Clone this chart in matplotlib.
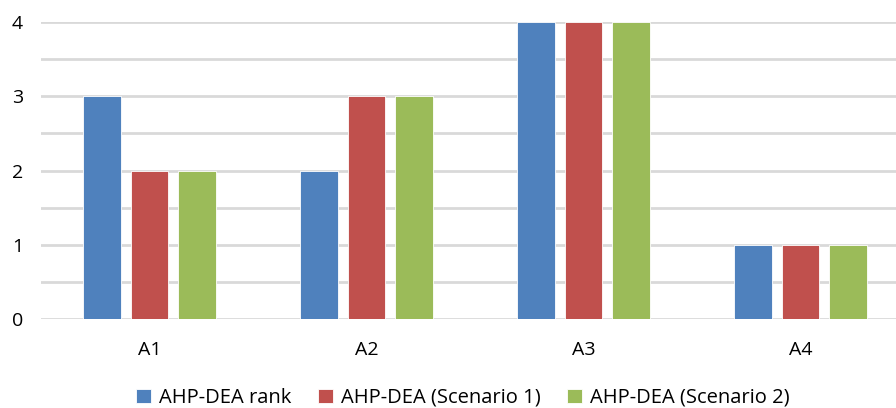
import matplotlib.pyplot as plt
import numpy as np

categories = ["A1", "A2", "A3", "A4"]
series_names = ["AHP-DEA rank", "AHP-DEA (Scenario 1)", "AHP-DEA (Scenario 2)"]
rank = [3, 2, 4, 1]
scen1 = [2, 3, 4, 1]
scen2 = [2, 3, 4, 1]
colors = ["#4F81BD", "#C0504D", "#9BBB59"]

plt.rcParams['font.family'] = ['Open Sans', 'DejaVu Sans']

fig = plt.figure(figsize=(8.96, 4.08), dpi=100)
# axes spans x 41..909 px, y 22..319 px
ax = fig.add_axes([41 / 896, 1 - 319 / 408, 868 / 896, 297 / 408])

x = np.arange(len(categories))
w = 0.175
off = 0.221
for i, vals in enumerate([rank, scen1, scen2]):
    ax.bar(x + (i - 1) * off, vals, width=w, color=colors[i],
           edgecolor="white", linewidth=0.6, label=series_names[i], zorder=3)

ax.set_xlim(-0.5, 3.5)
ax.set_ylim(0, 4)
ax.set_yticks([0, 1, 2, 3, 4])
ax.set_yticks(np.arange(0, 4.01, 0.5), minor=True)
ax.grid(axis="y", which="both", color="#d9d9d9", linewidth=2, zorder=0)
ax.set_xticks(x)
ax.set_xticklabels(categories)
for s in ax.spines.values():
    s.set_visible(False)
ax.tick_params(axis="both", which="both", length=0, labelsize=14, colors="black")
ax.tick_params(axis="x", pad=16)
ax.tick_params(axis="y", pad=21)
for lab in ax.get_yticklabels():
    lab.set_horizontalalignment("left")

leg = fig.legend(loc="center", bbox_to_anchor=(463 / 896, 1 - 398 / 408), ncol=3,
                 frameon=False, fontsize=14.5, handlelength=0.75, handleheight=0.75,
                 handletextpad=0.4, columnspacing=1.3)

fig.savefig("out.png", dpi=100)
